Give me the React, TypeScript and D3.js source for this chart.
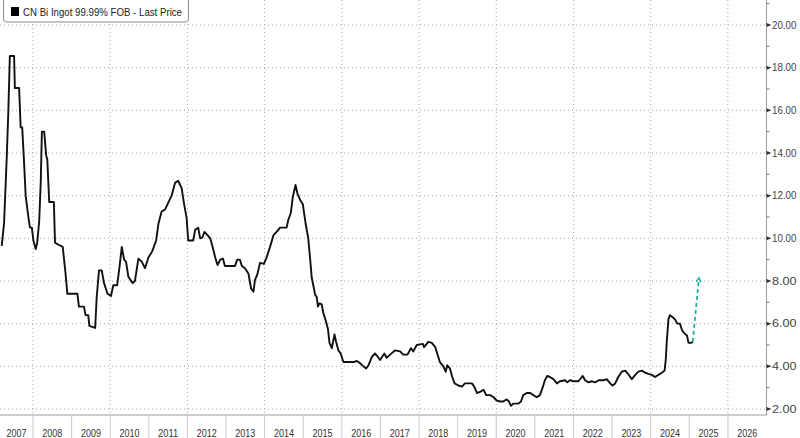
import React from "react";
import * as d3 from "d3";

// Decimal-year dates and prices (USD/lb)
const DATES = [
  2007.19, 2007.25, 2007.32, 2007.36, 2007.40, 2007.51, 2007.53, 2007.64, 2007.68, 2007.72,
  2007.77, 2007.81, 2007.88, 2007.92, 2007.97, 2008.01, 2008.07, 2008.11, 2008.16, 2008.20,
  2008.23, 2008.29, 2008.34, 2008.37, 2008.42, 2008.54, 2008.57, 2008.66, 2008.77, 2008.84,
  2008.89, 2009.15, 2009.19, 2009.32, 2009.36, 2009.43, 2009.46, 2009.61, 2009.65, 2009.71,
  2009.78, 2009.84, 2009.93, 2010.02, 2010.08, 2010.18, 2010.24, 2010.30, 2010.36, 2010.41,
  2010.47, 2010.58, 2010.64, 2010.73, 2010.82, 2010.90, 2010.99, 2011.09, 2011.19, 2011.25,
  2011.33, 2011.42, 2011.51, 2011.59, 2011.68, 2011.76, 2011.85, 2011.91, 2011.98, 2012.02,
  2012.15, 2012.20, 2012.28, 2012.33, 2012.39, 2012.44, 2012.52, 2012.59, 2012.66, 2012.72,
  2012.78, 2012.85, 2012.92, 2012.97, 2013.23, 2013.29, 2013.36, 2013.41, 2013.49, 2013.58,
  2013.65, 2013.71, 2013.75, 2013.81, 2013.88, 2013.98, 2014.05, 2014.14, 2014.23, 2014.31,
  2014.40, 2014.57, 2014.61, 2014.68, 2014.73, 2014.80, 2014.85, 2014.92, 2014.99, 2015.02,
  2015.07, 2015.13, 2015.18, 2015.22, 2015.26, 2015.31, 2015.35, 2015.38, 2015.42, 2015.48,
  2015.52, 2015.59, 2015.64, 2015.68, 2015.74, 2015.81, 2015.85, 2015.91, 2015.97, 2016.04,
  2016.30, 2016.39, 2016.47, 2016.56, 2016.63, 2016.69, 2016.78, 2016.86, 2016.93, 2016.99,
  2017.10, 2017.16, 2017.25, 2017.38, 2017.51, 2017.59, 2017.70, 2017.79, 2017.85, 2017.94,
  2018.10, 2018.13, 2018.24, 2018.33, 2018.42, 2018.47, 2018.54, 2018.63, 2018.69, 2018.73,
  2018.80, 2018.86, 2018.92, 2019.02, 2019.11, 2019.19, 2019.37, 2019.43, 2019.50, 2019.58,
  2019.67, 2019.74, 2019.84, 2019.93, 2020.01, 2020.10, 2020.18, 2020.27, 2020.33, 2020.38,
  2020.44, 2020.57, 2020.64, 2020.70, 2020.79, 2020.88, 2020.96, 2021.05, 2021.13, 2021.20,
  2021.26, 2021.32, 2021.39, 2021.48, 2021.57, 2021.65, 2021.78, 2021.84, 2021.91, 2022.00,
  2022.13, 2022.24, 2022.30, 2022.39, 2022.47, 2022.56, 2022.65, 2022.79, 2022.86, 2022.95,
  2023.01, 2023.08, 2023.16, 2023.25, 2023.34, 2023.41, 2023.51, 2023.60, 2023.68, 2023.77,
  2023.86, 2023.94, 2024.03, 2024.11, 2024.20, 2024.29, 2024.36, 2024.39, 2024.42, 2024.46,
  2024.50, 2024.57, 2024.63, 2024.69, 2024.76, 2024.81, 2024.87, 2024.94, 2024.98, 2025.04,
  2025.09,
];

const PRICES = [
  9.65, 10.7, 13.8, 15.9, 18.55, 18.55, 17.05, 17.05, 15.2, 15.2,
  13.5, 12.0, 11.0, 10.5, 10.5, 9.9, 9.5, 9.8, 10.8, 12.6,
  15.0, 15.0, 13.9, 13.7, 11.7, 11.7, 9.8, 9.7, 9.6, 8.4,
  7.4, 7.4, 6.8, 6.8, 6.4, 6.4, 5.9, 5.8, 7.25, 8.5,
  8.5, 7.9, 7.4, 7.3, 7.8, 7.8, 8.65, 9.6, 9.0, 8.9,
  8.2, 7.9, 8.0, 9.05, 8.9, 8.6, 9.1, 9.4, 9.9, 10.7,
  11.25, 11.35, 11.7, 12.0, 12.6, 12.7, 12.35, 11.65, 10.95, 9.9,
  9.9, 10.4, 10.5, 10.0, 10.05, 10.3, 10.15, 10.0, 9.55, 9.1,
  8.75, 9.0, 9.05, 8.7, 8.7, 9.0, 9.0, 8.7, 8.6, 8.35,
  7.65, 7.5, 8.05, 8.3, 8.85, 8.8, 9.1, 9.6, 10.15, 10.3,
  10.5, 10.5, 10.85, 11.2, 11.95, 12.5, 12.1, 11.8, 11.6, 11.2,
  10.6, 10.0, 9.0, 8.15, 7.8, 7.35, 7.25, 6.8, 6.95, 6.9,
  6.5, 6.1, 5.75, 5.1, 4.85, 5.5, 5.15, 4.75, 4.6, 4.2,
  4.2, 4.25, 4.15, 4.0, 3.9, 4.05, 4.45, 4.6, 4.45, 4.3,
  4.6, 4.4, 4.55, 4.75, 4.7, 4.55, 4.55, 4.85, 4.7, 5.0,
  5.05, 4.9, 5.15, 5.1, 4.9, 4.6, 4.2, 4.0, 3.75, 4.05,
  3.9, 3.5, 3.2, 3.1, 3.05, 3.2, 3.2, 3.05, 2.75, 2.8,
  2.9, 2.65, 2.65, 2.55, 2.4, 2.35, 2.35, 2.45, 2.35, 2.15,
  2.25, 2.25, 2.35, 2.65, 2.75, 2.75, 2.65, 2.55, 2.65, 3.0,
  3.35, 3.55, 3.5, 3.4, 3.2, 3.3, 3.35, 3.25, 3.35, 3.3,
  3.3, 3.55, 3.35, 3.25, 3.3, 3.25, 3.35, 3.35, 3.4, 3.2,
  3.1, 3.2, 3.5, 3.75, 3.8, 3.65, 3.4, 3.6, 3.75, 3.8,
  3.7, 3.65, 3.6, 3.5, 3.6, 3.7, 3.8, 4.3, 5.25, 6.2,
  6.4, 6.3, 6.2, 6.0, 6.0, 5.7, 5.55, 5.45, 5.1, 5.1,
  5.15,
];

// Dashed projection arrow
const ARROW_DATES = [2025.09, 2025.25];
const ARROW_VALUES = [5.15, 8.15];

const YEAR_LABELS = [
  "2007", "2008", "2009", "2010", "2011", "2012", "2013", "2014", "2015", "2016",
  "2017", "2018", "2019", "2020", "2021", "2022", "2023", "2024", "2025", "2026",
];
const GRID_YEARS = [2008, 2010, 2012, 2014, 2016, 2018, 2020, 2022, 2024, 2026];
const Y_TICKS = [2, 4, 6, 8, 10, 12, 14, 16, 18, 20];
const Y_MINOR_TICKS = [3, 5, 7, 9, 11, 13, 15, 17, 19, 21];
const SERIES_NAME = "CN Bi Ingot 99.99% FOB - Last Price";

export default function App() {
  const W = 800;
  const H = 438;
  const plotL = 0;
  const plotR = 766.5;
  const plotT = 0;
  const plotB = 415;

  const x = d3.scaleLinear().domain([2007.145, 2027]).range([plotL, plotR]);
  const y = d3.scaleLinear().domain([2, 20]).range([409, 25]);

  const pts: [number, number][] = DATES.map((d, i) => [d, PRICES[i]]);
  const line = d3
    .line<[number, number]>()
    .x((d) => x(d[0]))
    .y((d) => y(d[1]))
    .curve(d3.curveLinear);

  const ax0 = x(ARROW_DATES[0]);
  const ay0 = y(ARROW_VALUES[0]);
  const ax1 = x(ARROW_DATES[1]);
  const ay1 = y(ARROW_VALUES[1]);
  const ang = Math.atan2(ay1 - ay0, ax1 - ax0);
  const headLen = 5;
  const headA = 0.5;
  const h1 = [ax1 - headLen * Math.cos(ang - headA), ay1 - headLen * Math.sin(ang - headA)];
  const h2 = [ax1 - headLen * Math.cos(ang + headA), ay1 - headLen * Math.sin(ang + headA)];

  const gridColor = "#a8a8a8";
  const font = "'Liberation Sans', Arial, sans-serif";

  return (
    <svg
      width={W}
      height={H}
      style={{ position: "absolute", left: 0, top: 0, background: "#fff" }}
      fontFamily={font}
    >
      <rect x={0} y={0} width={W} height={H} fill="#fff" />
      {/* horizontal grid */}
      {Y_TICKS.map((t) => (
        <line
          key={"hg" + t}
          x1={plotL}
          x2={plotR}
          y1={y(t)}
          y2={y(t)}
          stroke={gridColor}
          strokeWidth={1}
          strokeDasharray="1 3"
        />
      ))}
      {/* vertical grid */}
      {GRID_YEARS.map((yr) => (
        <line
          key={"vg" + yr}
          x1={x(yr)}
          x2={x(yr)}
          y1={plotT}
          y2={plotB}
          stroke={gridColor}
          strokeWidth={1}
          strokeDasharray="1 3"
        />
      ))}

      {/* series */}
      <path d={line(pts) || ""} fill="none" stroke="#111" strokeWidth={1.9} strokeLinejoin="round" />

      {/* projection arrow */}
      <line x1={ax0} y1={ay0} x2={ax1} y2={ay1} stroke="#22b3a0" strokeWidth={1.8} strokeDasharray="4 3" />
      <polyline
        points={`${h1[0]},${h1[1]} ${ax1},${ay1} ${h2[0]},${h2[1]}`}
        fill="none"
        stroke="#22b3a0"
        strokeWidth={1.5}
      />

      {/* bottom axis */}
      <line x1={plotL} x2={plotR} y1={plotB} y2={plotB} stroke="#9a9a9a" strokeWidth={1} />
      {YEAR_LABELS.map((lab, i) => {
        const yr = 2007 + i;
        const left = Math.max(plotL, x(yr));
        const right = Math.min(plotR, x(yr + 1));
        return (
          <g key={"yl" + lab}>
            {i > 0 && (
              <line x1={x(yr)} x2={x(yr)} y1={plotB} y2={H} stroke="#c8c8c8" strokeWidth={1} />
            )}
            <text
              x={(left + right) / 2}
              y={436.5}
              textAnchor="middle"
              fontSize={11}
              fill="#333"
              textLength={20}
              lengthAdjust="spacingAndGlyphs"
            >
              {lab}
            </text>
          </g>
        );
      })}

      {/* right axis */}
      <line x1={plotR} x2={plotR} y1={0} y2={plotB} stroke="#9a9a9a" strokeWidth={1} />
      {Y_MINOR_TICKS.map((t) => (
        <line key={"mt" + t} x1={plotR} x2={plotR + 3} y1={y(t)} y2={y(t)} stroke="#777" strokeWidth={1} />
      ))}
      {Y_TICKS.map((t) => (
        <g key={"yt" + t}>
          <path
            d={`M${plotR},${y(t) - 2} L${plotR + 5},${y(t)} L${plotR},${y(t) + 2} Z`}
            fill="#333"
          />
          <text
            x={772}
            y={y(t) + 3.8}
            fontSize={10.5}
            fill="#444"
            textLength={24.5}
            lengthAdjust="spacingAndGlyphs"
          >
            {d3.format(".2f")(t)}
          </text>
        </g>
      ))}

      {/* legend */}
      <rect x={3.5} y={-4} width={185} height={26} rx={3} ry={3} fill="#fff" stroke="#8a8a8a" strokeWidth={1} />
      <rect x={11} y={7} width={8} height={9} fill="#000" />
      <text
        x={23}
        y={15.8}
        fontSize={11}
        fill="#222"
        textLength={159}
        lengthAdjust="spacingAndGlyphs"
      >
        {SERIES_NAME}
      </text>
    </svg>
  );
}
